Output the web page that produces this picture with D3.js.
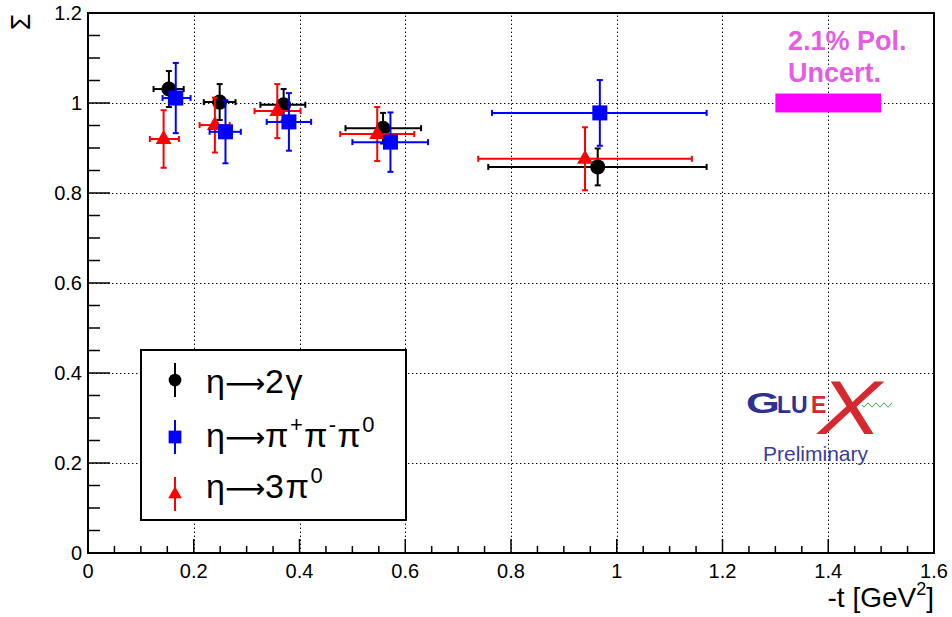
<!DOCTYPE html>
<html>
<head>
<meta charset="utf-8">
<script src="https://cdn.jsdelivr.net/npm/d3@7"></script>
<style>
  body { margin: 0; background: #fff; }
  text { font-family: "Liberation Sans", Arial, sans-serif; }
</style>
</head>
<body>
<div id="chart"></div>
<script>
// -t bin centres, Sigma values, stat errors, horizontal bin edges
const t2g     = [0.153, 0.249, 0.370, 0.558, 0.964];
const sig2g   = [1.031, 1.002, 0.996, 0.944, 0.858];
const err2g   = [0.040, 0.040, 0.035, 0.034, 0.041];
const tLo2g   = [0.124, 0.219, 0.326, 0.487, 0.757];
const tHi2g   = [0.181, 0.279, 0.411, 0.630, 1.170];

const t3pic   = [0.143, 0.240, 0.358, 0.547, 0.940];
const sig3pic = [0.920, 0.951, 0.982, 0.931, 0.876];
const err3pic = [0.064, 0.061, 0.060, 0.060, 0.070];
const tLo3pic = [0.117, 0.211, 0.315, 0.477, 0.738];
const tHi3pic = [0.172, 0.268, 0.402, 0.617, 1.142];

const tPpm    = [0.166, 0.260, 0.380, 0.572, 0.968];
const sigPpm  = [1.011, 0.936, 0.958, 0.913, 0.978];
const errPpm  = [0.078, 0.070, 0.064, 0.066, 0.073];
const tLoPpm  = [0.141, 0.230, 0.338, 0.500, 0.764];
const tHiPpm  = [0.194, 0.289, 0.422, 0.643, 1.170];

const xTicks = [0, 0.2, 0.4, 0.6, 0.8, 1, 1.2, 1.4, 1.6];
const yTicks = [0, 0.2, 0.4, 0.6, 0.8, 1, 1.2];

// polarisation uncertainty band
const polBand = {t0: 1.3, t1: 1.5, center: 1.0, half: 0.021};

function buildSeries(t, s, e, lo, hi) {
    return t.map((d, i) => ({t: d, s: s[i], e: e[i], lo: lo[i], hi: hi[i]}));
}

const series = [
    {name: "2g",  color: "#000000", marker: "circle",   data: buildSeries(t2g, sig2g, err2g, tLo2g, tHi2g)},
    {name: "3pi", color: "#ff0000", marker: "triangle", data: buildSeries(t3pic, sig3pic, err3pic, tLo3pic, tHi3pic)},
    {name: "ppm", color: "#0000ff", marker: "square",   data: buildSeries(tPpm, sigPpm, errPpm, tLoPpm, tHiPpm)}
];

const W = 952, H = 617;
const svg = d3.select("#chart").append("svg")
    .attr("width", W).attr("height", H);

const x = d3.scaleLinear().domain([0, 1.6]).range([88, 934]);
const y = d3.scaleLinear().domain([0, 1.2]).range([553, 13]);

// grid
const grid = svg.append("g")
    .attr("stroke", "#000").attr("stroke-width", 1)
    .attr("stroke-dasharray", "1.4,2.6");
grid.selectAll(".gx").data(xTicks.slice(1, -1)).enter().append("line")
    .attr("x1", d => Math.round(x(d)) + 0.5).attr("x2", d => Math.round(x(d)) + 0.5)
    .attr("y1", y(0)).attr("y2", y(1.2));
grid.selectAll(".gy").data(yTicks.slice(1, -1)).enter().append("line")
    .attr("y1", d => Math.round(y(d)) + 0.5).attr("y2", d => Math.round(y(d)) + 0.5)
    .attr("x1", x(0)).attr("x2", x(1.6));

// axes (ROOT style: ticks inside)
const xMinor = d3.range(0, 1.6001, 0.05);
const yMinor = d3.range(0, 1.2001, 0.05);
const isMajor = v => Math.abs(v / 0.2 - Math.round(v / 0.2)) < 1e-6;

const axes = svg.append("g").attr("stroke", "#000");
axes.selectAll(".tx").data(xMinor).enter().append("line")
    .attr("x1", d => x(d)).attr("x2", d => x(d))
    .attr("y1", y(0)).attr("y2", d => y(0) - (isMajor(d) ? 14 : 7))
    .attr("stroke-width", 1.5);
axes.selectAll(".ty").data(yMinor).enter().append("line")
    .attr("y1", d => y(d)).attr("y2", d => y(d))
    .attr("x1", x(0)).attr("x2", d => x(0) + (isMajor(d) ? 22 : 12))
    .attr("stroke-width", 1.5);

svg.append("rect")
    .attr("x", x(0)).attr("y", y(1.2))
    .attr("width", x(1.6) - x(0)).attr("height", y(0) - y(1.2))
    .attr("fill", "none").attr("stroke", "#000").attr("stroke-width", 2);

const fmt = d => d.toString();

svg.selectAll(".xl").data(xTicks).enter().append("text")
    .attr("x", d => x(d)).attr("y", 578)
    .attr("text-anchor", "middle").attr("font-size", 20)
    .text(fmt);
svg.selectAll(".yl").data(yTicks).enter().append("text")
    .attr("x", 82).attr("y", d => y(d) + 7)
    .attr("text-anchor", "end").attr("font-size", 20)
    .text(fmt);

// axis titles
const xt = svg.append("text")
    .attr("x", 934).attr("y", 607)
    .attr("text-anchor", "end").attr("font-size", 28);
xt.append("tspan").text("-t [GeV");
xt.append("tspan").attr("font-size", 18).attr("dy", -12).text("2");
xt.append("tspan").attr("dy", 12).text("]");

svg.append("text")
    .attr("transform", "translate(30,22) rotate(-90)")
    .attr("text-anchor", "middle").attr("font-size", 27)
    .text("Σ");

// pol uncertainty
svg.append("rect")
    .attr("x", x(polBand.t0)).attr("y", y(polBand.center + polBand.half))
    .attr("width", x(polBand.t1) - x(polBand.t0))
    .attr("height", y(polBand.center - polBand.half) - y(polBand.center + polBand.half))
    .attr("fill", "#ff00ff");
svg.append("text").attr("x", 788).attr("y", 50)
    .attr("font-size", 27).attr("font-weight", "bold").attr("fill", "#e35ee3")
    .text("2.1% Pol.");
svg.append("text").attr("x", 788).attr("y", 82)
    .attr("font-size", 27).attr("font-weight", "bold").attr("fill", "#e35ee3")
    .text("Uncert.");

// markers
function drawMarker(g, type, color, cx, cy, sc = 1) {
    if (type === "circle") {
        g.append("circle").attr("cx", cx).attr("cy", cy).attr("r", 7.5 * sc).attr("fill", color);
    } else if (type === "square") {
        g.append("rect").attr("x", cx - 7.5 * sc).attr("y", cy - 7.5 * sc)
            .attr("width", 15 * sc).attr("height", 15 * sc).attr("fill", color);
    } else {
        g.append("path")
            .attr("d", `M${cx},${cy - 9 * sc} L${cx + 8 * sc},${cy + 5 * sc} L${cx - 8 * sc},${cy + 5 * sc} Z`)
            .attr("fill", color);
    }
}

// data points
series.forEach(s => {
    const g = svg.append("g").attr("stroke", s.color).attr("stroke-width", 2);
    s.data.forEach(d => {
        const cx = x(d.t), cy = y(d.s);
        const y1 = y(d.s + d.e), y2 = y(d.s - d.e);
        const x1 = x(d.lo), x2 = x(d.hi);
        g.append("line").attr("x1", cx).attr("x2", cx).attr("y1", y1).attr("y2", y2);
        g.append("line").attr("x1", cx - 3).attr("x2", cx + 3).attr("y1", y1).attr("y2", y1);
        g.append("line").attr("x1", cx - 3).attr("x2", cx + 3).attr("y1", y2).attr("y2", y2);
        g.append("line").attr("x1", x1).attr("x2", x2).attr("y1", cy).attr("y2", cy);
        g.append("line").attr("x1", x1).attr("x2", x1).attr("y1", cy - 3).attr("y2", cy + 3);
        g.append("line").attr("x1", x2).attr("x2", x2).attr("y1", cy - 3).attr("y2", cy + 3);
    });
    const m = svg.append("g");
    s.data.forEach(d => drawMarker(m, s.marker, s.color, x(d.t), y(d.s)));
});

// legend
const legend = svg.append("g");
legend.append("rect")
    .attr("x", 141).attr("y", 350).attr("width", 265).attr("height", 170)
    .attr("fill", "#fff").attr("stroke", "#000").attr("stroke-width", 2);

const legendItems = [
    {marker: "circle",   color: "#000000", cy: 380, base: 393, rest: [{s: "2γ"}]},
    {marker: "square",   color: "#0000ff", cy: 437, base: 447,
        rest: [{s: "π"}, {s: "+", sup: true}, {s: "π", down: true}, {s: "-", sup: true}, {s: "π", down: true}, {s: "0", sup: true}]},
    {marker: "triangle", color: "#ff0000", cy: 494, base: 498, rest: [{s: "3π"}, {s: "0", sup: true}]}
];
legendItems.forEach(it => {
    legend.append("line").attr("x1", 175).attr("x2", 175)
        .attr("y1", it.cy - 17).attr("y2", it.cy + 17)
        .attr("stroke", it.color).attr("stroke-width", 2);
    drawMarker(legend, it.marker, it.color, 175, it.cy, 0.85);

    const tx = legend.append("text").attr("x", 206).attr("y", it.base).attr("font-size", 34);
    tx.append("tspan").text("η");
    tx.append("tspan").attr("font-family", "DejaVu Sans").attr("font-size", 28).text("⟶");
    it.rest.forEach(p => {
        const ts = tx.append("tspan").text(p.s).attr("letter-spacing", 1.5);
        if (p.sup) ts.attr("font-size", 22).attr("dy", -15).attr("letter-spacing", 1);
        if (p.down) ts.attr("dy", 15);
    });
});

// GlueX logo
const logo = svg.append("g");
logo.append("text").attr("x", 746).attr("y", 413)
    .attr("transform", "translate(746,0) scale(1.45,1) translate(-746,0)")
    .attr("font-size", 30).attr("font-weight", "bold").attr("fill", "#2e3192")
    .text("G");
logo.append("text").attr("x", 777).attr("y", 413)
    .attr("font-size", 23).attr("font-weight", "bold").attr("fill", "#2e3192")
    .text("LU");
logo.append("text").attr("x", 811).attr("y", 413)
    .attr("font-size", 23).attr("font-weight", "bold").attr("fill", "#d7282f")
    .text("E");
logo.append("text").attr("x", 818).attr("y", 434)
    .attr("transform", "translate(818,0) scale(1.25,1) translate(-818,0)")
    .attr("font-size", 76).attr("font-style", "italic")
    .attr("font-family", "Liberation Serif, serif").attr("fill", "#d7282f")
    .text("X");
const wave = d3.range(0, 31).map(i => [862 + i, 405 + 2 * Math.sin(i * Math.PI / 4)]);
logo.append("path").attr("d", d3.line()(wave))
    .attr("fill", "none").attr("stroke", "#3aa84a").attr("stroke-width", 1);
logo.append("text").attr("x", 763).attr("y", 461)
    .attr("font-size", 21).attr("fill", "#3b3b9f")
    .text("Preliminary");
</script>
</body>
</html>
